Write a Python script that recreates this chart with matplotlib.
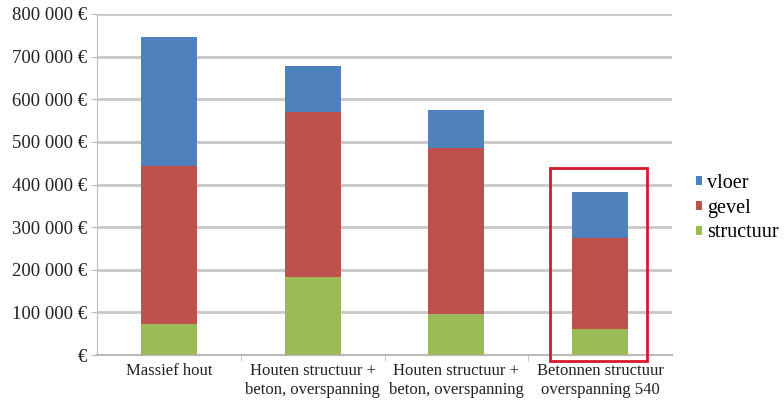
import matplotlib
matplotlib.use('Agg')
import matplotlib.pyplot as plt
from matplotlib.patches import Rectangle

categories = ['Massief hout', 'Houten structuur +\nbeton, overspanning',
              'Houten structuur +\nbeton, overspanning', 'Betonnen structuur\noverspanning 540']
structuur = [73000, 182000, 96000, 60000]
gevel = [371000, 388000, 389000, 214000]
vloer = [301000, 109000, 90000, 109000]
yticks = [0, 100000, 200000, 300000, 400000, 500000, 600000, 700000, 800000]
ytick_labels = ['€', '100 000 €', '200 000 €', '300 000 €', '400 000 €',
                '500 000 €', '600 000 €', '700 000 €', '800 000 €']

plt.rcParams['font.family'] = ['Liberation Serif', 'DejaVu Serif']

fig = plt.figure(figsize=(7.84, 4.03), dpi=100)
ax = fig.add_axes([97 / 784, 1 - 355 / 403, 575 / 784, 341 / 403])

x = range(len(categories))
w = 0.39
ax.bar(x, structuur, w, color='#9BBB59', label='structuur', zorder=3)
bottom2 = structuur
ax.bar(x, gevel, w, bottom=bottom2, color='#C0504D', label='gevel', zorder=3)
bottom3 = [a + b for a, b in zip(structuur, gevel)]
ax.bar(x, vloer, w, bottom=bottom3, color='#4F81BD', label='vloer', zorder=3)

ax.set_xlim(-0.5, 3.5)
ax.set_ylim(0, 800000)
ax.set_yticks(yticks)
ax.set_yticklabels(ytick_labels, fontsize=13.5, color='#222222')
ax.set_xticks(list(x))
ax.set_xticklabels(categories, fontsize=12, color='#222222')
ax.set_xticks([0.5, 1.5, 2.5], minor=True)
ax.tick_params(axis='x', which='major', length=0, pad=6)
ax.tick_params(axis='x', which='minor', length=4, color='#bbbbbb')
ax.tick_params(axis='y', length=4, color='#bbbbbb', pad=3)

ax.grid(axis='y', color='#c8c8c8', linewidth=2, zorder=0)
for s in ['top', 'right']:
    ax.spines[s].set_visible(False)
ax.spines['left'].set_color('#bbbbbb')
ax.spines['bottom'].set_color('#bbbbbb')
ax.spines['bottom'].set_linewidth(1.5)

# rode kader rond de laatste balk
ax.add_patch(Rectangle((2.65, -14000), 0.676, 453000, fill=False,
                       edgecolor='#d7192b', linewidth=2, clip_on=False, zorder=5))

handles, labels = ax.get_legend_handles_labels()
leg = fig.legend(handles[::-1], labels[::-1], loc='upper left',
                 bbox_to_anchor=(686 / 784, 1 - 164 / 403), frameon=False,
                 fontsize=14.5, handlelength=0.3, handleheight=0.3,
                 handletextpad=0.25, labelspacing=0.28, borderpad=0)

fig.savefig('out.png', dpi=100, facecolor='white')
